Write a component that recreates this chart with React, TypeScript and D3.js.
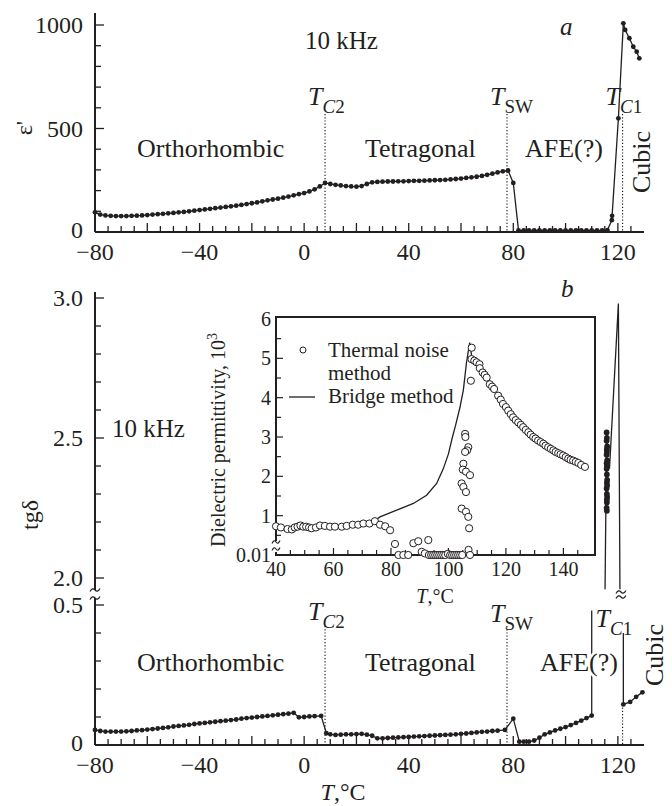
import * as React from "react";
import * as d3 from "d3";

// panel a: real part of permittivity at 10 kHz
const epsTemp = [
  -80, -78, -76, -74, -72, -70, -68, -66, -64, -62, -60, -58, -56, -54, -52, -50, -48, -46, -44, -42,
  -40, -38, -36, -34, -32, -30, -28, -26, -24, -22, -20, -18, -16, -14, -12, -10, -8, -6, -4, -2,
  0, 2, 4, 6, 8, 10, 12, 14, 16, 18, 20, 22, 24, 26, 28, 30, 32, 34, 36, 38,
  40, 42, 44, 46, 48, 50, 52, 54, 56, 58, 60, 62, 64, 66, 68, 70, 72, 74, 76, 78,
  80, 82, 84, 86, 88, 90, 92, 94, 96, 98, 100, 102, 104, 106, 108, 110, 112, 114, 116,
  117.7, 117.8, 120.2, 122.1, 122.8, 124.4, 125.9, 127.2, 128.2,
];
const epsValue = [
  95, 84, 80, 78, 77, 77, 77, 78, 79, 80, 82, 84, 86, 88, 90, 92, 95, 97, 100, 103,
  106, 109, 112, 115, 118, 121, 124, 127, 131, 135, 139, 143, 148, 153, 157, 161, 166, 171, 177, 183,
  188, 196, 206, 220, 237, 232, 228, 225, 222, 220, 219, 222, 232, 240, 242, 243, 244, 244, 245, 245,
  246, 247, 247, 248, 249, 250, 251, 252, 254, 256, 258, 261, 264, 267, 271, 276, 282, 288, 293, 297,
  237, 8, 8, 8, 8, 8, 8, 8, 8, 8, 8, 8, 8, 8, 8, 8, 8, 8, 9,
  57, 78, 549, 1008, 976, 936, 895, 871, 839,
];

// panel b: loss tangent, lower part of the broken axis
const lossTemp = [
  -80, -78, -76, -74, -72, -70, -68, -66, -64, -62, -60, -58, -56, -54, -52, -50, -48, -46, -44, -42,
  -40, -38, -36, -34, -32, -30, -28, -26, -24, -22, -20, -18, -16, -14, -12, -10, -8, -6, -4, -2,
  0, 2, 4, 6.5, 8.5, 10, 12, 14, 16, 18, 20, 22, 24, 26, 28, 30, 32, 34, 36, 38,
  40, 42, 44, 46, 48, 50, 52, 54, 56, 58, 60, 62, 64, 66, 68, 70, 72, 74, 76.8, 80,
  82.3, 84, 86, 88, 90, 92, 94, 96, 98, 100, 102, 104, 106, 108, 110,
];
const lossValue = [
  0.054, 0.05, 0.048, 0.048, 0.048, 0.048, 0.049, 0.05, 0.052, 0.053, 0.055, 0.057, 0.059, 0.061, 0.063, 0.066, 0.068, 0.07, 0.072, 0.075,
  0.077, 0.079, 0.081, 0.083, 0.085, 0.087, 0.089, 0.091, 0.094, 0.096, 0.098, 0.1, 0.102, 0.104, 0.106, 0.108, 0.11, 0.112, 0.115, 0.099,
  0.1, 0.102, 0.103, 0.104, 0.042, 0.038, 0.036, 0.037, 0.038, 0.038, 0.039, 0.04, 0.037, 0.033, 0.024, 0.024, 0.025, 0.026, 0.027, 0.028,
  0.029, 0.03, 0.031, 0.032, 0.033, 0.034, 0.035, 0.036, 0.037, 0.038, 0.04, 0.041, 0.043, 0.045, 0.047, 0.048, 0.05, 0.051, 0.054, 0.094,
  0.012, 0.012, 0.012, 0.016, 0.026, 0.038, 0.045, 0.052, 0.058, 0.064, 0.071, 0.079, 0.087, 0.096, 0.105,
];
const cubicLossTemp = [122.1, 124.7, 127.0, 129.4];
const cubicLossValue = [0.145, 0.154, 0.172, 0.188];

// panel b: upper part of the broken axis (dense cluster near 116 C)
const peakLossTemp = [115.7, 115.8, 115.7, 115.9, 115.8, 115.7, 115.9, 115.8, 115.7, 115.8, 115.9, 115.8, 115.7, 115.8, 115.9, 115.8, 115.7, 115.8, 115.8, 115.7, 115.9, 115.8];
const peakLossValue = [2.52, 2.5, 2.49, 2.47, 2.45, 2.44, 2.42, 2.4, 2.39, 2.37, 2.35, 2.34, 2.32, 2.3, 2.29, 2.27, 2.25, 2.24, 2.46, 2.41, 2.33, 2.28];

// jumps across the axis break, drawn without markers
const lowLinks = [
  { temp: [110, 110], value: [0.105, 0.48] },
  { temp: [122.1, 122.1], value: [0.4, 0.145] },
];
const highLinks = [
  { temp: [115.1, 115.7], value: [1.96, 2.52] },
  { temp: [116.8, 120.2, 120.8], value: [2.39, 2.98, 1.96] },
];

// inset
const noiseTemp = [
  40, 41.7, 44, 45.5, 46.5, 47.5, 48.5, 49.5, 50.5, 51.5, 52.4, 53.9, 55.3, 57, 58.8, 60.5, 62.9, 64.6, 66.7, 68.6,
  70.4, 72.5, 74.4, 76.2, 78, 79.7, 81.4, 82.6, 84.3, 86, 87.8, 89.5, 90.7, 91.8, 93, 93.2, 94, 94.7, 95.4, 96.1,
  96.8, 97.5, 98.2, 98.9, 99.8, 100.6, 101.3, 102, 102.7, 103.4, 104.1, 104.8, 107, 107.5,
  105.8, 105.9, 106.9, 106.5, 105.8, 105.2, 105, 106.1, 107.5, 104.6, 105.2, 106.1, 104.6, 106.1, 106.9, 107.2,
  107.8, 108.1, 108, 109, 109.8, 110.8, 110.9, 111.9, 112.6, 113.3, 114.4, 115.2, 115.9, 117.3, 118.2, 119, 120, 120.8,
  121.7, 122.5, 123.4, 124.3, 125.2, 126, 126.9, 127.8, 128.6, 129.5, 130.3, 131.2, 132.1, 133, 133.8, 134.7, 135.6,
  136.5, 137.3, 138.2, 139, 139.9, 140.8, 141.7, 142.5, 143.4, 144.3, 145.2, 146.2, 147.5,
];
const noiseValue = [
  0.73, 0.7, 0.66, 0.65, 0.7, 0.72, 0.75, 0.72, 0.72, 0.7, 0.68, 0.7, 0.75, 0.74, 0.72, 0.72, 0.72, 0.74, 0.77, 0.77,
  0.8, 0.8, 0.86, 0.77, 0.73, 0.63, 0.28, 0, 0, 0, 0.3, 0.35, 0.08, 0.04, 0.38, 0, 0, 0, 0, 0,
  0, 0, 0, 0, 0.03, 0, 0, 0, 0, 0, 0, 0, 0.13, 0,
  3.08, 3.0, 2.74, 2.66, 2.62, 2.32, 2.17, 2.12, 2.03, 1.82, 1.73, 1.6, 1.18, 1.1, 0.97, 0.68,
  4.43, 5.27, 4.98, 4.94, 4.9, 4.85, 4.75, 4.64, 4.58, 4.51, 4.34, 4.28, 4.22, 4.05, 3.95, 3.84, 3.76, 3.67,
  3.58, 3.5, 3.43, 3.37, 3.31, 3.25, 3.18, 3.12, 3.06, 3.0, 2.96, 2.91, 2.87, 2.83, 2.78, 2.74, 2.7,
  2.66, 2.62, 2.59, 2.56, 2.53, 2.49, 2.45, 2.42, 2.4, 2.37, 2.34, 2.29, 2.24,
];
const bridgeTemp = [40, 50, 60, 70, 74, 76.2, 82, 87.8, 92.4, 95.9, 98.2, 100, 101.4, 102.5, 104, 105.2, 106.3, 107.4, 108.2, 110, 112, 116, 120, 126, 132, 138, 146];
const bridgeValue = [0.7, 0.72, 0.73, 0.78, 0.86, 0.97, 1.14, 1.31, 1.52, 1.82, 2.19, 2.57, 3.0, 3.3, 3.75, 4.2, 4.9, 5.4, 5.0, 4.88, 4.63, 4.2, 3.76, 3.25, 2.87, 2.6, 2.29];

const tempLabels = [-80, -40, 0, 40, 80, 120];
const epsLabels = [0, 500, 1000];
const lossLowLabels = [0, 0.5];
const lossHighLabels = [2.0, 2.5, 3.0];
const insetTempLabels = [40, 60, 80, 100, 120, 140];
const insetLabels = ["0.01", "1", "2", "3", "4", "5", "6"];
const transitionTemp = [8, 77.6, 121.8];
const transitionSub = ["C2", "SW", "C1"];

const INK = "#231f20";
const FONT = "'Liberation Serif', 'Times New Roman', serif";

const x = d3.scaleLinear().domain([-80, 130]).range([95, 644]);
const epsY = d3.scaleLinear().domain([0, 1000]).range([232, 25]);
const lowY = d3.scaleLinear().domain([0, 0.5]).range([745, 605]);
const highY = d3.scaleLinear().domain([2, 3]).range([578, 298]);
const insetX = d3.scaleLinear().domain([40, 151]).range([276, 595]);
const insetY = d3.scaleLinear().domain([0, 6]).range([555, 319]);

const zip = (t: number[], v: number[]) => t.map((d, i) => [d, v[i]] as [number, number]);
const minus = (n: number) => (n < 0 ? "\u2212" + Math.abs(n) : String(n));

function Series({ pts, ys, r = 2.4, dots = true }: { pts: [number, number][]; ys: any; r?: number; dots?: boolean }) {
  const line = d3.line<[number, number]>().x((d) => x(d[0])).y((d) => ys(d[1]));
  return (
    <g>
      <path d={line(pts) || ""} fill="none" stroke={INK} strokeWidth={1.3} />
      {dots && pts.map((d, i) => <circle key={i} cx={x(d[0])} cy={ys(d[1])} r={r} fill={INK} />)}
    </g>
  );
}

function tilde(cx: number, cy: number, w = 6) {
  return `M${cx - w},${cy + 1.5} Q${cx - w / 2},${cy - 3} ${cx},${cy} T${cx + w},${cy - 1.5}`;
}

function TempLabel({ px, y, sub }: { px: number; y: number; sub: string }) {
  const italicC = sub[0] === "C";
  return (
    <text x={px - 16} y={y} fontSize={26} fill={INK}>
      <tspan fontStyle="italic">T</tspan>
      <tspan dy={8} fontSize={19}>
        {italicC ? <tspan fontStyle="italic">C</tspan> : sub}
        {italicC ? sub.slice(1) : null}
      </tspan>
    </text>
  );
}

function XAxis({ y }: { y: number }) {
  const ticks = d3.range(-80, 126, 5);
  return (
    <g>
      <line x1={x(-80)} x2={644} y1={y} y2={y} stroke={INK} strokeWidth={2} />
      {ticks.map((t) => (
        <line key={t} x1={x(t)} x2={x(t)} y1={y} y2={y - (t % 20 === 0 ? 9 : 6)} stroke={INK} strokeWidth={1.3} />
      ))}
      {tempLabels.map((t) => (
        <text key={t} x={x(t)} y={y + 28} textAnchor="middle" fontSize={24} fill={INK}>
          {minus(t)}
        </text>
      ))}
    </g>
  );
}

export default function App() {
  const epsPts = zip(epsTemp, epsValue);
  const bridgeLine = d3.line<[number, number]>().x((d) => insetX(d[0])).y((d) => insetY(d[1]));
  const epsTicks = d3.range(0, 1001, 100);
  const lowTicks = d3.range(0, 0.51, 0.1);
  const highTicks = d3.range(2, 3.01, 0.1);
  const isMajor = (t: number) => Math.abs(t * 2 - Math.round(t * 2)) < 1e-6;

  return (
    <svg width={672} height={806} style={{ position: "absolute", left: 0, top: 0 }} fontFamily={FONT}>
      <rect width={672} height={806} fill="#fff" />

      {/* ---------- panel a ---------- */}
      <line x1={95} x2={95} y1={13} y2={232} stroke={INK} strokeWidth={2} />
      {epsTicks.map((t) => (
        <line key={t} x1={95} x2={95 + (t % 500 === 0 ? 9 : 6)} y1={epsY(t)} y2={epsY(t)} stroke={INK} strokeWidth={1.3} />
      ))}
      {epsLabels.map((t) => (
        <text key={t} x={83} y={epsY(t) + (t === 0 ? 6 : 8)} textAnchor="end" fontSize={24} fill={INK}>{t}</text>
      ))}
      <XAxis y={232} />
      <text transform="translate(32,128) rotate(-90)" textAnchor="middle" fontSize={24} fill={INK}>ε'</text>

      {transitionTemp.map((t, i) => (
        <line key={i} x1={x(t)} x2={x(t)} y1={114} y2={232} stroke={INK} strokeWidth={1.2} strokeDasharray="1.2,2" />
      ))}
      <Series pts={epsPts} ys={epsY} />

      <text x={305} y={49} fontSize={25} fill={INK}>10 kHz</text>
      <text x={560} y={35} fontSize={25} fontStyle="italic" fill={INK}>a</text>
      {transitionTemp.map((t, i) => (
        <TempLabel key={i} px={x(t) - 1} y={105} sub={transitionSub[i]} />
      ))}
      <text x={137} y={157} fontSize={26} fill={INK}>Orthorhombic</text>
      <text x={365} y={157} fontSize={26} fill={INK}>Tetragonal</text>
      <text x={525} y={157} fontSize={26} fill={INK}>AFE(?)</text>
      <text transform="translate(650,162) rotate(-90)" textAnchor="middle" fontSize={26} fill={INK}>Cubic</text>

      {/* ---------- panel b ---------- */}
      <line x1={95} x2={95} y1={292} y2={590} stroke={INK} strokeWidth={2} />
      <line x1={95} x2={95} y1={598} y2={745} stroke={INK} strokeWidth={2} />
      <path d={tilde(95, 590, 5)} fill="none" stroke={INK} strokeWidth={1.2} />
      <path d={tilde(95, 598, 5)} fill="none" stroke={INK} strokeWidth={1.2} />
      {highTicks.map((t) => (
        <line key={t} x1={95} x2={95 + (isMajor(t) ? 9 : 6)} y1={highY(t)} y2={highY(t)} stroke={INK} strokeWidth={1.3} />
      ))}
      {lowTicks.map((t) => (
        <line key={t} x1={95} x2={95 + (isMajor(t) ? 9 : 6)} y1={lowY(t)} y2={lowY(t)} stroke={INK} strokeWidth={1.3} />
      ))}
      {lossHighLabels.map((t) => (
        <text key={t} x={83} y={highY(t) + 8} textAnchor="end" fontSize={24} fill={INK}>{t.toFixed(1)}</text>
      ))}
      {lossLowLabels.map((t) => (
        <text key={t} x={83} y={lowY(t) + (t === 0 ? 6 : 8)} textAnchor="end" fontSize={24} fill={INK}>{t === 0 ? "0" : t.toFixed(1)}</text>
      ))}
      <XAxis y={745} />
      <text transform="translate(38,515) rotate(-90)" textAnchor="middle" fontSize={24} fill={INK}>tgδ</text>
      <text x={343} y={800} textAnchor="middle" fontSize={24} fill={INK}>
        <tspan fontStyle="italic">T</tspan>,°C
      </text>

      {transitionTemp.map((t, i) => (
        <line key={i} x1={x(t)} x2={x(t)} y1={i === 2 ? lowY(cubicLossValue[0]) : 626} y2={745} stroke={INK} strokeWidth={1.2} strokeDasharray="1.2,2" />
      ))}
      <Series pts={zip(lossTemp, lossValue)} ys={lowY} />
      <Series pts={zip(cubicLossTemp, cubicLossValue)} ys={lowY} />
      {lowLinks.map((l, i) => (
        <Series key={i} pts={zip(l.temp, l.value)} ys={lowY} dots={false} />
      ))}
      {highLinks.map((l, i) => (
        <Series key={i} pts={zip(l.temp, l.value)} ys={highY} dots={false} />
      ))}
      <Series pts={zip(peakLossTemp, peakLossValue)} ys={highY} r={2.9} />
      <path d={tilde(x(120.8) + 1, 592, 5)} fill="none" stroke={INK} strokeWidth={1.2} />
      <path d={tilde(x(120.8) + 1, 597, 5)} fill="none" stroke={INK} strokeWidth={1.2} />

      <text x={112} y={437} fontSize={25} fill={INK}>10 kHz</text>
      <text x={561} y={297} fontSize={25} fontStyle="italic" fill={INK}>b</text>
      <TempLabel px={x(8) - 1} y={620} sub="C2" />
      <TempLabel px={x(77.6) - 1} y={622} sub="SW" />
      <TempLabel px={x(121.8) - 11} y={627} sub="C1" />
      <text x={137} y={671} fontSize={26} fill={INK}>Orthorhombic</text>
      <text x={365} y={671} fontSize={26} fill={INK}>Tetragonal</text>
      <text x={540} y={671} fontSize={26} fill={INK} stroke="#fff" strokeWidth={5} paintOrder="stroke">AFE(?)</text>
      <text transform="translate(663,655) rotate(-90)" textAnchor="middle" fontSize={26} fill={INK}>Cubic</text>

      {/* ---------- inset ---------- */}
      <rect x={276} y={317} width={319} height={238} fill="#fff" stroke={INK} strokeWidth={2} />
      {d3.range(40, 150, 5).map((t) => (
        <line key={t} x1={insetX(t)} x2={insetX(t)} y1={555} y2={555 - (t % 20 === 0 ? 7 : 5)} stroke={INK} strokeWidth={1.2} />
      ))}
      {d3.range(0.5, 6, 0.5).map((t) => (
        <line key={t} x1={276} x2={276 + (t % 1 === 0 ? 7 : 5)} y1={insetY(t)} y2={insetY(t)} stroke={INK} strokeWidth={1.2} />
      ))}
      <line x1={276} x2={276} y1={541} y2={552} stroke="#fff" strokeWidth={4} />
      <path d={tilde(276, 542, 4)} fill="none" stroke={INK} strokeWidth={1.1} />
      <path d={tilde(276, 549, 4)} fill="none" stroke={INK} strokeWidth={1.1} />
      {insetLabels.map((s, i) => (
        <text key={s} x={271} y={insetY(i) + 7} textAnchor="end" fontSize={20} fill={INK}>{s}</text>
      ))}
      {insetTempLabels.map((t) => (
        <text key={t} x={insetX(t)} y={576} textAnchor="middle" fontSize={20} fill={INK}>{t}</text>
      ))}
      <text x={435} y={603} textAnchor="middle" fontSize={20} fill={INK}>
        <tspan fontStyle="italic">T</tspan>,°C
      </text>
      <text transform="translate(225,440) rotate(-90)" textAnchor="middle" fontSize={20} fill={INK}>
        Dielectric permittivity, 10<tspan dy={-8} fontSize={14}>3</tspan>
      </text>

      <path d={bridgeLine(zip(bridgeTemp, bridgeValue)) || ""} fill="none" stroke={INK} strokeWidth={1.3} />
      {zip(noiseTemp, noiseValue).map((d, i) => (
        <circle key={i} cx={insetX(d[0])} cy={insetY(d[1])} r={3.6} fill="#fff" stroke={INK} strokeWidth={1} />
      ))}

      <circle cx={303} cy={350} r={3} fill="#fff" stroke={INK} strokeWidth={1} />
      <text x={328} y={357} fontSize={21} fill={INK}>Thermal noise</text>
      <text x={328} y={380} fontSize={21} fill={INK}>method</text>
      <line x1={289} x2={315} y1={397} y2={397} stroke={INK} strokeWidth={1.3} />
      <text x={328} y={403} fontSize={21} fill={INK}>Bridge method</text>
    </svg>
  );
}
